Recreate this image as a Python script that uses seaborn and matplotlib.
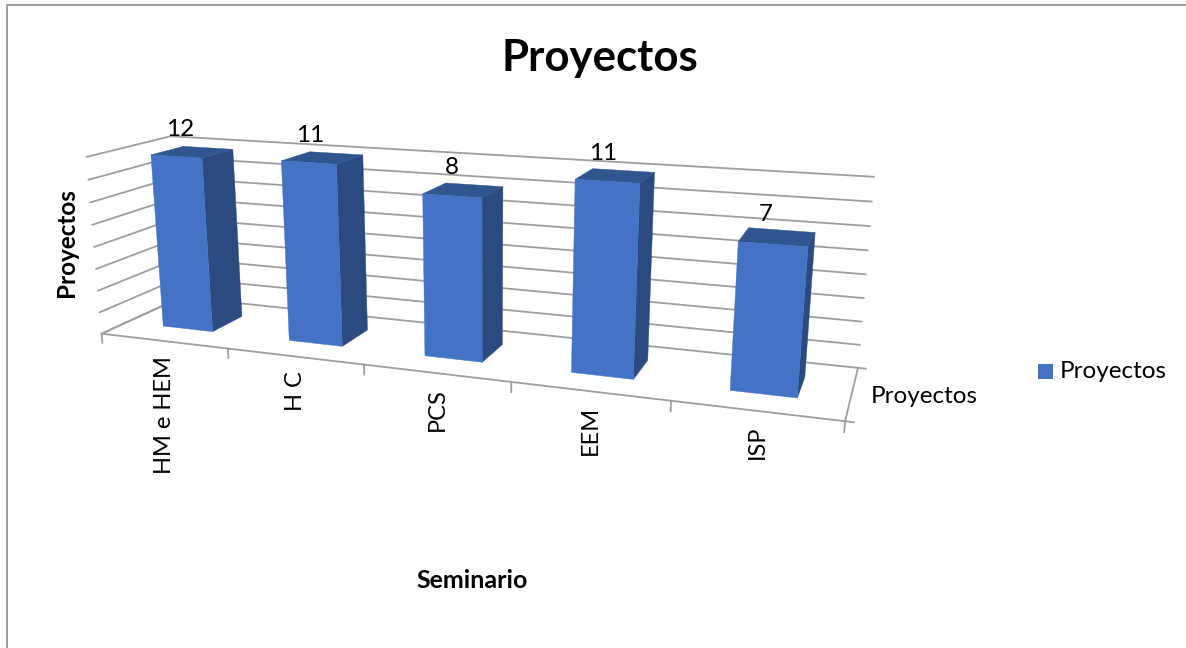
import numpy as np
import seaborn as sns
import matplotlib.pyplot as plt
from matplotlib.patches import Polygon, Rectangle

categories = ["HM e HEM", "H C", "PCS", "EEM", "ISP"]
values = [12, 11, 8, 11, 7]
# drawn bar heights read against the wall gridlines, they do not follow the labels exactly
bar_levels = [7.9, 8.0, 7.0, 8.0, 6.0]
series_name = "Proyectos"
title = "Proyectos"
x_title = "Seminario"
y_title = "Proyectos"
n_grid = 8

FRONT = "#4472C4"
SIDE = "#2A4A80"
TOP = "#30558F"
GRID = "#9E9E9E"

sns.set_theme(style="white")
plt.rcParams["font.family"] = ["Lato", "DejaVu Sans"]

# camera fitted on the corners of the plot box (x: 0-5, depth: 0-1, height: 0-1)
box = [(0, 0, 0), (5, 0, 0), (5, 1, 0), (0, 1, 0), (0, 1, 1), (5, 1, 1), (0, 0, 1)]
screen = [(101, 333), (845, 422), (858, 367), (182, 298), (170, 136), (874, 177), (87, 157)]
A, b = [], []
for (X, Y, Z), (u, v) in zip(box, screen):
    A.append([X, Y, Z, 1, 0, 0, 0, 0, -u * X, -u * Y, -u * Z])
    A.append([0, 0, 0, 0, X, Y, Z, 1, -v * X, -v * Y, -v * Z])
    b += [u, v]
cam = np.append(np.linalg.lstsq(np.array(A, float), np.array(b, float), rcond=None)[0], 1).reshape(3, 4)


def project(x, y, z):
    p = cam @ np.array([x, y, z, 1.0])
    return p[0] / p[2], p[1] / p[2]


fig = plt.figure(figsize=(11.86, 6.48), dpi=100)
ax = fig.add_axes([0, 0, 1, 1])
ax.set_xlim(0, 1186)
ax.set_ylim(648, 0)
ax.axis("off")

# chart border
ax.plot([6.5, 6.5, 1186], [648, 4.5, 4.5], color="#8C8C8C", lw=1.2)

n = len(categories)
line = dict(color=GRID, lw=1.3, solid_capstyle="round")

# walls
for k in range(n_grid + 1):
    z = k / n_grid
    pts = [project(0, 0, z), project(0, 1, z), project(n, 1, z)]
    ax.plot(*zip(*pts), **line)

# floor and ticks
floor = [project(0, 1, 0), project(0, 0, 0), project(n, 0, 0), project(n, 1, 0)]
ax.plot(*zip(*floor), **line)
for i in range(n + 1):
    ax.plot(*zip(project(i, 0, 0), project(i, 0, -0.055)), **line)
for d in (0, 1):
    ax.plot(*zip(project(n, d, 0), project(n + 0.05, d, 0)), **line)

# bars
bar_w = 0.40
d0, d1 = 0.30, 0.70
for i, v in enumerate(values):
    x0, x1 = i + 0.5 - bar_w / 2, i + 0.5 + bar_w / 2
    h = bar_levels[i] / n_grid
    side = [project(x1, d0, 0), project(x1, d1, 0), project(x1, d1, h), project(x1, d0, h)]
    top = [project(x0, d0, h), project(x1, d0, h), project(x1, d1, h), project(x0, d1, h)]
    front = [project(x0, d0, 0), project(x1, d0, 0), project(x1, d0, h), project(x0, d0, h)]
    ax.add_patch(Polygon(side, closed=True, fc=SIDE, ec=SIDE, lw=0.3, zorder=3))
    ax.add_patch(Polygon(top, closed=True, fc=TOP, ec=TOP, lw=0.3, zorder=3))
    ax.add_patch(Polygon(front, closed=True, fc=FRONT, ec=FRONT, lw=0.3, zorder=3))
    lx, ly = project(i + 0.5, 0.5, h)
    ax.text(lx - 12, ly - 12, str(v), ha="center", va="bottom", fontsize=17.5, color="black", zorder=4)

# category labels
for i, c in enumerate(categories):
    lx, ly = project(i + 0.5, 0, 0)
    ax.text(lx + 1, ly + 15, c, rotation=90, ha="center", va="top", fontsize=17, color="black")

# depth label, titles, legend
lx, ly = project(n, 0.5, 0)
ax.text(lx + 19, ly + 4, series_name, ha="left", va="center", fontsize=17.5, color="black")
ax.text(600, 58, title, ha="center", va="center", fontsize=31.5, fontweight="bold", color="black")
ax.text(472, 581, x_title, ha="center", va="center", fontsize=18, fontweight="bold", color="black")
ax.text(67, 243, y_title, rotation=90, ha="center", va="center", fontsize=17.5, fontweight="bold", color="black")
ax.add_patch(Rectangle((1038, 364), 15, 15, fc=FRONT, ec="none"))
ax.text(1060, 371, series_name, ha="left", va="center", fontsize=17.5, color="black")

fig.savefig("out.png", dpi=100)
